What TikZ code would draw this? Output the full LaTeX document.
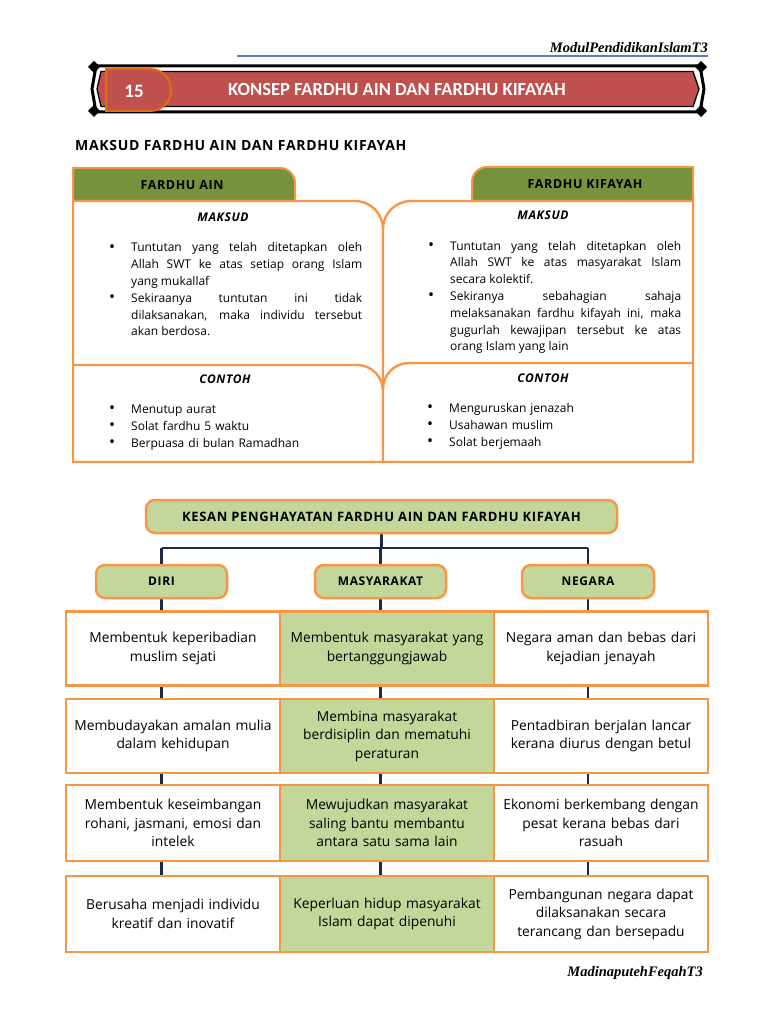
\documentclass[tikz,border=0pt]{standalone}
\usepackage{fontspec}
\setmainfont{Open Sans}
\newfontfamily\capsfont{Open Sans}[LetterSpace=5]
\newfontfamily\bannerfont{Carlito}
\newfontfamily\signfont{Liberation Serif}
\usepackage{xcolor}
\usetikzlibrary{positioning, calc, backgrounds}
\definecolor{bannerred}{HTML}{C0504D}
\definecolor{badgeorange}{HTML}{E46C0A}
\definecolor{tabgreen}{HTML}{76923C}
\definecolor{lightgreen}{HTML}{C4D79B}
\definecolor{boxorange}{HTML}{F79646}
\definecolor{linkblue}{HTML}{1B2A49}
\definecolor{ruleblue}{HTML}{4F81BD}
\newcommand{\bitem}{\par\noindent\llap{\raisebox{-0.5pt}{\fontsize{16}{16}\selectfont\textbullet}\hspace{16pt}}}
\tolerance=10000
\hyphenpenalty=10000

\begin{document}
\begin{tikzpicture}[
      x=1pt, y=-1pt,
      tabfill/.style={fill=tabgreen, draw=boxorange, line width=2pt},
      panelline/.style={draw=boxorange, line width=2.4pt},
      pillbox/.style={draw=boxorange, fill=lightgreen, line width=2.5pt, rounded corners=9pt, minimum height=33pt, inner sep=0pt, font=\capsfont\bfseries\fontsize{12}{14}\selectfont},
      cellbox/.style={draw=boxorange, line width=2.4pt, minimum width=214pt, minimum height=74pt, text width=200pt, align=center, inner sep=0pt, font=\fontsize{13.8}{18.5}\selectfont},
      midcell/.style={cellbox, fill=lightgreen},
      sidecell/.style={cellbox, fill=white},
      link/.style={draw=linkblue, line width=2.6pt},
      bodytext/.style={anchor=north west, inner sep=0pt, text width=231pt, align=justify, font=\fontsize{12}{16.8}\selectfont},
      listtext/.style={bodytext, align=left, font=\fontsize{12}{17}\selectfont},
      subhead/.style={font=\capsfont\bfseries\itshape\fontsize{12}{14}\selectfont},
      tabhead/.style={font=\capsfont\bfseries\fontsize{12.5}{14}\selectfont},
      sign/.style={font=\signfont\bfseries\itshape\fontsize{14.5}{16}\selectfont, inner sep=0pt},
      diamond/.style={fill=black}
    ]
      \useasboundingbox (0,0) rectangle (768,1024);

      % Header rule
      \draw[ruleblue, line width=1.3pt] (237,56) -- (708,56);
      \node[sign, anchor=base east] (modul) at (708,53) {ModulPendidikanIslamT3};

      % Banner
      \draw[line width=3pt] (96,66) -- (700,66) -- (704,89) -- (700,112) -- (96,112) -- (92,89) -- cycle;
      \draw[line width=1.3pt, fill=bannerred] (101,71.5) -- (693,71.5) -- (699,89) -- (693,106.5) -- (101,106.5) -- (97,89) -- cycle;
      \foreach \dx/\dy in {94/67, 701/67, 94/111, 701/111}
        \fill[diamond] (\dx,\dy) +(-6,0) -- +(0,-6) -- +(6,0) -- +(0,6) -- cycle;
      \filldraw[fill=bannerred, draw=badgeorange, line width=2pt]
        (106,69) -- (150,69) .. controls (162,69) and (171,78) .. (171,90)
        .. controls (171,102) and (162,111) .. (150,111) -- (106,111) -- cycle;
      \node[text=white, font=\bannerfont\bfseries\fontsize{19}{22}\selectfont] (num) at (134,91) {15};
      \node[text=white, font=\bannerfont\bfseries\fontsize{18.5}{22}\selectfont] (title) at (397,90) {KONSEP FARDHU AIN DAN FARDHU KIFAYAH};

      \node[anchor=west, inner sep=0pt, font=\capsfont\bfseries\fontsize{14}{16}\selectfont] (maksudall) at (75,146) {MAKSUD FARDHU AIN DAN FARDHU KIFAYAH};

      % Tabs
      \filldraw[tabfill] (73,201) -- (73,168) -- (280,168) .. controls (288.3,168) and (295,174.7) .. (295,183) -- (295,201) -- cycle;
      \filldraw[tabfill] (693,201) -- (693,167) -- (487,167) .. controls (478.7,167) and (472,173.7) .. (472,182) -- (472,201) -- cycle;
      \node[tabhead] (ain) at (182,185) {FARDHU AIN};
      \node[tabhead] (kifayah) at (585,184) {FARDHU KIFAYAH};

      % Panels
      \draw[panelline] (383,229) -- (383,462) -- (73,462) -- (73,201) -- (355,201) .. controls (370.5,201) and (383,213.5) .. (383,229);
      \draw[panelline] (383,462) -- (693,462) -- (693,201) -- (411,201) .. controls (395.5,201) and (383,213.5) .. (383,229);
      \draw[panelline] (73,365) -- (357,365) .. controls (371.4,365) and (383,376.6) .. (383,391);
      \draw[panelline] (693,363) -- (409,363) .. controls (394.6,363) and (383,374.6) .. (383,389);

      \node[subhead] (ainmaksud) at (223,217) {MAKSUD};
      \node[subhead] (kifmaksud) at (543,215) {MAKSUD};
      \node[subhead] (aincontoh) at (225,379) {CONTOH};
      \node[subhead] (kifcontoh) at (543,378) {CONTOH};

      \node[bodytext] (aindef) at (131,235)
        {\bitem Tuntutan yang telah ditetapkan oleh\linebreak Allah SWT ke atas setiap orang Islam\linebreak yang mukallaf
         \bitem Sekiraanya tuntutan ini tidak\linebreak dilaksanakan, maka individu tersebut\linebreak akan berdosa.};
      \node[bodytext] (kifdef) at (450,233)
        {\bitem Tuntutan yang telah ditetapkan oleh\linebreak Allah SWT ke atas masyarakat Islam\linebreak secara kolektif.
         \bitem Sekiranya sebahagian sahaja\linebreak melaksanakan fardhu kifayah ini, maka\linebreak gugurlah kewajipan tersebut ke atas\linebreak orang Islam yang lain};
      \node[listtext] (ainlist) at (131,396)
        {\bitem Menutup aurat \bitem Solat fardhu 5 waktu \bitem Berpuasa di bulan Ramadhan};
      \node[listtext] (kiflist) at (449,395)
        {\bitem Menguruskan jenazah \bitem Usahawan muslim \bitem Solat berjemaah};

      % Kesan chart
      \node[pillbox, minimum width=471pt, font=\capsfont\bfseries\fontsize{13}{15}\selectfont] (kesan) at (381.5,516.5) {KESAN PENGHAYATAN FARDHU AIN DAN FARDHU KIFAYAH};
      \node[pillbox, minimum width=131pt] (diri) at (161.5,581.5) {DIRI};
      \node[pillbox, minimum width=131pt] (masy) at (380.5,581.5) {MASYARAKAT};
      \node[pillbox, minimum width=132pt] (negara) at (588,581.5) {NEGARA};

      \node[sidecell] (d1) at (173,648.5) {Membentuk keperibadian\\muslim sejati};
      \node[midcell] (m1) at (387,648.5) {Membentuk masyarakat yang\\bertanggungjawab};
      \node[sidecell] (n1) at (601,648.5) {Negara aman dan bebas dari\\kejadian jenayah};

      \node[sidecell] (d2) at (173,736) {Membudayakan amalan mulia\\dalam kehidupan};
      \node[midcell] (m2) at (387,736) {Membina masyarakat\\berdisiplin dan mematuhi\\peraturan};
      \node[sidecell] (n2) at (601,736) {Pentadbiran berjalan lancar\\kerana diurus dengan betul};

      \node[sidecell, minimum height=76pt] (d3) at (173,823) {Membentuk keseimbangan\\rohani, jasmani, emosi dan\\intelek};
      \node[midcell, minimum height=76pt] (m3) at (387,823) {Mewujudkan masyarakat\\saling bantu membantu\\antara satu sama lain};
      \node[sidecell, minimum height=76pt] (n3) at (601,823) {Ekonomi berkembang dengan\\pesat kerana bebas dari\\rasuah};

      \node[sidecell, minimum height=76pt] (d4) at (173,914) {Berusaha menjadi individu\\kreatif dan inovatif};
      \node[midcell, minimum height=76pt] (m4) at (387,914) {Keperluan hidup masyarakat\\Islam dapat dipenuhi};
      \node[sidecell, minimum height=76pt] (n4) at (601,914) {Pembangunan negara dapat\\dilaksanakan secara\\terancang dan bersepadu};

      % Connectors
      \coordinate (hub) at (381.5,548);
      \begin{scope}[on background layer]
        \draw[link] (kesan.south) -- (hub);
        \draw[link] (hub -| diri) -- (hub -| negara);
        \draw[link] (hub -| diri) -- (diri |- d4.north);
        \draw[link] (hub -| masy) -- (masy |- m4.north);
        \draw[link] (hub -| negara) -- (negara |- n4.north);
      \end{scope}

      \node[sign, anchor=base east] (madina) at (703,976) {MadinaputehFeqahT3};
    \end{tikzpicture}
\end{document}
